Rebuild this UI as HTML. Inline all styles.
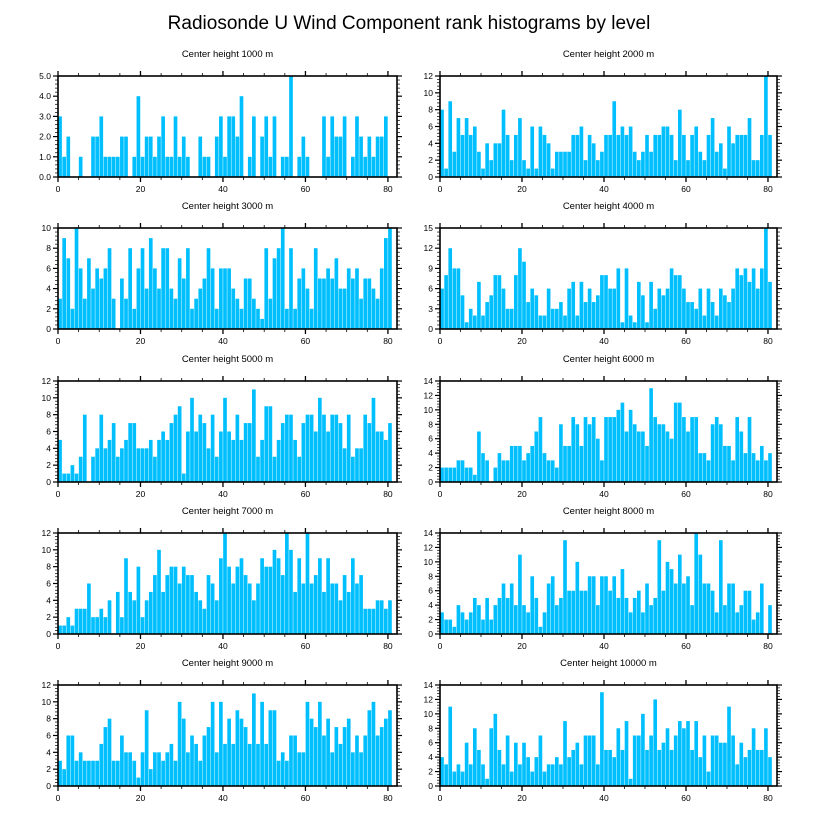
<!DOCTYPE html>
<html><head><meta charset="utf-8">
<style>
html,body{margin:0;padding:0;background:#fff;}
svg{display:block;font-family:"Liberation Sans",sans-serif;}
</style></head>
<body>
<svg id="chart" width="818" height="824" viewBox="0 0 818 824">
<text x="409" y="29" text-anchor="middle" font-size="19" fill="#000">Radiosonde U Wind Component rank histograms by level</text>
</svg>
<script>
const panelTitles = ["Center height 1000 m","Center height 2000 m","Center height 3000 m","Center height 4000 m","Center height 5000 m","Center height 6000 m","Center height 7000 m","Center height 8000 m","Center height 9000 m","Center height 10000 m"];
const yMaxes = [5,12,10,15,12,14,12,14,12,14];
const yStepsMajor = [1,2,2,3,2,2,2,2,2,2];
const xTicks = [0,20,40,60,80];
const h1000 = [3,1,2,0,0,1,0,0,2,2,3,1,1,1,1,2,2,0,1,4,1,2,2,1,2,3,1,1,3,1,2,1,0,0,2,1,1,0,2,3,1,3,3,2,4,0,1,3,0,2,3,1,3,0,1,1,5,0,1,2,1,0,0,0,3,1,3,2,2,3,0,1,3,2,1,2,1,2,2,3,0,0];
const h2000 = [8,1,9,3,7,5,7,5,6,3,1,4,2,4,4,8,5,2,5,7,2,1,6,1,6,5,4,1,3,3,3,3,5,5,6,2,5,4,2,3,5,5,9,5,6,5,6,3,2,3,5,3,5,5,6,6,5,2,8,5,2,5,6,3,2,5,7,3,4,1,6,4,5,5,5,7,2,2,5,12,5,0];
const h3000 = [3,9,7,2,10,6,3,7,4,6,5,6,8,3,0,5,3,8,2,6,8,4,9,6,4,8,8,4,3,7,5,8,2,3,4,5,8,6,2,6,6,6,4,3,2,5,5,3,2,1,8,3,7,8,10,2,8,2,5,6,4,2,8,5,5,6,5,7,4,4,6,5,6,3,5,5,4,3,6,9,10,0];
const h4000 = [6,8,12,9,9,5,1,3,2,7,2,4,5,8,8,6,3,3,8,12,10,4,6,5,2,2,6,3,3,4,2,6,7,2,7,4,6,4,5,8,8,6,6,9,1,9,2,1,7,5,1,7,3,6,5,6,9,8,8,6,4,4,3,6,2,6,4,2,6,5,4,6,9,8,9,7,9,6,9,15,7,0];
const h5000 = [5,1,1,2,1,3,8,0,3,4,8,4,5,7,3,4,5,7,7,4,4,4,5,3,5,6,5,7,8,9,1,6,10,6,8,7,4,8,3,6,10,6,5,8,5,7,7,11,3,5,9,9,3,5,7,8,8,5,3,7,8,8,6,10,8,6,8,8,7,4,8,3,4,4,8,7,10,6,6,5,7,0];
const h6000 = [2,2,2,2,3,3,2,2,1,7,4,3,0,2,4,3,3,5,5,5,3,4,5,7,9,4,3,3,2,8,5,5,9,8,5,9,8,9,6,3,9,9,9,10,11,7,10,8,7,7,5,13,9,8,8,7,6,11,11,9,7,9,9,4,4,3,8,9,8,5,5,3,9,7,4,9,4,3,5,3,4,0];
const h7000 = [1,1,2,1,3,3,3,6,2,2,3,2,4,0,5,2,9,5,4,8,2,4,5,7,10,5,7,8,8,6,8,7,7,5,4,3,7,6,4,9,12,8,6,8,9,7,6,4,6,9,8,8,10,9,7,12,10,5,9,6,12,6,7,9,5,9,6,6,4,7,5,9,6,7,3,3,3,4,4,3,4,0];
const h8000 = [3,2,2,1,4,3,2,3,5,4,2,5,2,4,5,7,5,7,4,11,4,3,8,5,1,3,7,8,4,5,13,6,6,10,6,6,8,8,4,8,8,6,8,5,9,5,3,5,6,3,7,4,5,13,6,10,9,7,11,7,8,4,14,11,7,7,6,3,13,4,7,7,3,4,6,6,2,3,7,0,4,0];
const h9000 = [3,2,6,6,3,4,3,3,3,3,5,7,8,3,3,6,4,4,3,1,4,9,2,4,4,3,4,5,3,10,8,4,6,5,3,6,7,10,4,10,5,8,5,9,8,7,5,11,5,10,5,9,9,3,4,3,6,6,4,4,10,8,7,10,6,8,4,7,5,7,8,4,6,4,6,9,10,6,7,8,9,0];
const h10000 = [4,3,11,2,3,2,6,3,8,5,3,1,8,10,5,3,7,2,6,3,6,4,2,4,7,2,3,3,4,3,9,4,5,6,3,7,7,7,3,13,5,5,4,8,5,9,1,7,7,10,5,7,12,5,6,8,5,7,9,8,9,5,9,4,7,2,7,7,6,6,11,7,3,6,4,5,8,5,5,8,4,0];
const allCounts = [h1000,h2000,h3000,h4000,h5000,h6000,h7000,h8000,h9000,h10000];

const NS = "http://www.w3.org/2000/svg";
const svg = document.getElementById('chart');
function mk(tag, attrs, parent){
  const e = document.createElementNS(NS, tag);
  for (const k in attrs) e.setAttribute(k, attrs[k]);
  (parent||svg).appendChild(e);
  return e;
}
const colLeft = [58, 440];
const plotW = [339, 337];
const rowTop = [76, 228, 381, 533, 685];
const plotH = 101;
const xDomainMax = 82.2;

for (let p = 0; p < 10; p++) {
  const col = p % 2, row = Math.floor(p / 2);
  const L = colLeft[col], W = plotW[col], T = rowTop[row], B = T + plotH;
  const ymax = yMaxes[p], step = yStepsMajor[p];
  const xs = v => L + v / xDomainMax * W;
  const ys = v => B - v / ymax * plotH;
  const g = mk('g', {});
  
  

  const t = mk('text', {x: L + W / 2, y: T - 19, 'text-anchor': 'middle', 'font-size': '9.5', fill: '#000'}, g);
  t.textContent = panelTitles[p];
  
  

  const counts = allCounts[p];
  for (let i = 0; i < counts.length; i++) {
    if (counts[i] <= 0) continue;
    const r = mk('rect', {x: xs(i) + 0.2, y: ys(counts[i]), width: Math.max(0.5, xs(i + 1) - xs(i) - 0.45), height: B - ys(counts[i]), fill: '#00bfff'}, g);
    
    
  }

  const f = mk('rect', {x: L, y: T, width: W, height: plotH, fill: 'none', stroke: '#000', 'stroke-width': '1.6'}, g);
  
  

  for (let v = 0; v <= 80; v += 5) {
    const major = v % 20 === 0;
    const len = major ? 5 : 3;
    const x = xs(v);
    mk('line', {x1: x, x2: x, y1: B, y2: B + len, stroke: '#000', 'stroke-width': major ? 1.3 : 0.8}, g);
    mk('line', {x1: x, x2: x, y1: T, y2: T - len, stroke: '#000', 'stroke-width': major ? 1.3 : 0.8}, g);
  }
  for (const v of xTicks) {
    const tl = mk('text', {x: xs(v), y: B + 15, 'text-anchor': 'middle', 'font-size': '8.5', fill: '#000'}, g);
    tl.textContent = v;
    
    
  }
  const minor = step / 5;
  for (let k = 0; k <= Math.round(ymax / minor); k++) {
    const v = k * minor;
    const major = k % 5 === 0;
    const len = major ? 5 : 3;
    const y = ys(v);
    mk('line', {x1: L, x2: L - len, y1: y, y2: y, stroke: '#000', 'stroke-width': major ? 1.2 : 0.7}, g);
    mk('line', {x1: L + W, x2: L + W + len, y1: y, y2: y, stroke: '#000', 'stroke-width': major ? 1.2 : 0.7}, g);
  }
  for (let v = 0; v <= ymax + 1e-9; v += step) {
    const yl = mk('text', {x: L - 7, y: ys(v) + 3, 'text-anchor': 'end', 'font-size': '8.5', fill: '#000'}, g);
    yl.textContent = ymax === 5 ? v.toFixed(1) : String(v);
    
    
  }
}
</script>
</body></html>
